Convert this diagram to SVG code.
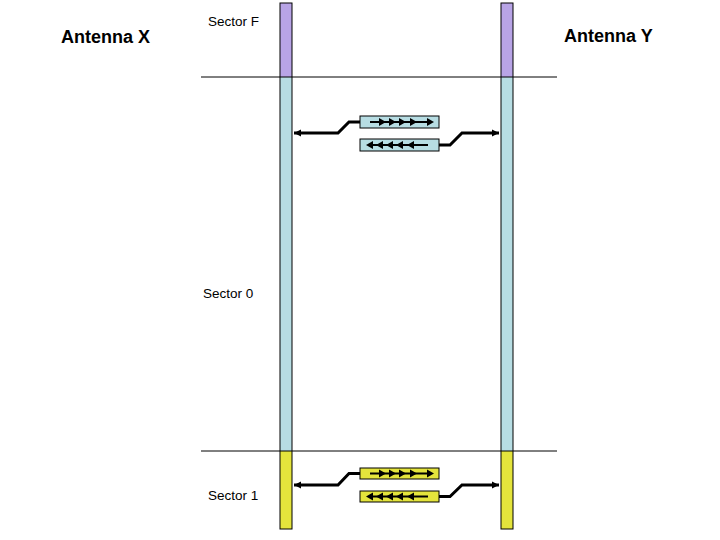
<svg xmlns="http://www.w3.org/2000/svg" width="720" height="540" viewBox="0 0 720 540">
<defs>
<style>
.bar{stroke:#000;stroke-width:1}
.blue{fill:#B7DDE3}
.purple{fill:#B8A4E6}
.yellow{fill:#E4E43C}
.div{stroke:#000;stroke-width:1;fill:none}
.conn{stroke:#000;stroke-width:3;fill:none}
.inner{stroke:#000;stroke-width:2;fill:none}
.lbl{font-family:"Liberation Sans",Arial,sans-serif;font-size:13.5px;fill:#000}
.ant{font-family:"Liberation Sans",Arial,sans-serif;font-size:18px;font-weight:bold;fill:#000}
</style>
<marker id="hR" markerWidth="8" markerHeight="8" refX="7" refY="4" orient="auto" markerUnits="userSpaceOnUse"><path d="M0,0.5 L7,4 L0,7.5 Z" fill="#000"/></marker>
<path id="tr" d="M0,0 L-7,-4 L-7,4 Z" fill="#000"/>
<path id="tl" d="M0,0 L7,-4 L7,4 Z" fill="#000"/>
</defs>
<rect width="720" height="540" fill="#fff"/>

<g id="antenna-x"><text class="ant" x="61" y="43">Antenna X</text></g>
<g id="antenna-y"><text class="ant" x="564" y="42">Antenna Y</text></g>

<g id="bar-x">
<rect class="purple" x="280" y="3" width="12" height="74"/>
<rect class="blue" x="280" y="77" width="12" height="374"/>
<rect class="yellow" x="280" y="451" width="12" height="78"/>
<rect x="280" y="3" width="12" height="526" fill="none" stroke="#000"/>
</g>
<g id="bar-y">
<rect class="purple" x="501" y="3" width="12" height="74"/>
<rect class="blue" x="501" y="77" width="12" height="374"/>
<rect class="yellow" x="501" y="451" width="12" height="78"/>
<rect x="501" y="3" width="12" height="526" fill="none" stroke="#000"/>
</g>

<g id="dividers">
<line class="div" x1="201" y1="77" x2="557" y2="77"/>
<line class="div" x1="201" y1="451" x2="557" y2="451"/>
</g>

<g id="sector-f"><text class="lbl" x="208" y="26">Sector F</text></g>
<g id="sector-0"><text class="lbl" x="203" y="298">Sector 0</text></g>
<g id="sector-1"><text class="lbl" x="208" y="500">Sector 1</text></g>

<g id="box-0a">
<rect class="blue bar" x="360" y="116" width="79" height="12"/>
<line class="inner" x1="370" y1="122" x2="430" y2="122"/>
<use href="#tr" x="386" y="122"/><use href="#tr" x="396" y="122"/><use href="#tr" x="406" y="122"/><use href="#tr" x="417" y="122"/><use href="#tr" x="434" y="122"/>
</g>
<g id="box-0b">
<rect class="blue bar" x="360" y="139" width="79" height="12"/>
<line class="inner" x1="370" y1="145" x2="428" y2="145"/>
<use href="#tl" x="366" y="145"/><use href="#tl" x="376" y="145"/><use href="#tl" x="386" y="145"/><use href="#tl" x="396" y="145"/><use href="#tl" x="407" y="145"/>
</g>
<g id="box-1a">
<rect class="yellow bar" x="360" y="468" width="79" height="11"/>
<line class="inner" x1="370" y1="473.5" x2="430" y2="473.5"/>
<use href="#tr" x="386" y="473.5"/><use href="#tr" x="396" y="473.5"/><use href="#tr" x="406" y="473.5"/><use href="#tr" x="417" y="473.5"/><use href="#tr" x="434" y="473.5"/>
</g>
<g id="box-1b">
<rect class="yellow bar" x="360" y="491" width="79" height="11"/>
<line class="inner" x1="370" y1="496.5" x2="428" y2="496.5"/>
<use href="#tl" x="366" y="496.5"/><use href="#tl" x="376" y="496.5"/><use href="#tl" x="386" y="496.5"/><use href="#tl" x="396" y="496.5"/><use href="#tl" x="407" y="496.5"/>
</g>

<g id="connectors">
<path class="conn" d="M360,122 L349,122 L338,133 L294,133" marker-end="url(#hR)"/>
<path class="conn" d="M439,145 L450,145 L462,133 L499,133" marker-end="url(#hR)"/>
<path class="conn" d="M360,473.5 L349,473.5 L338,485 L294,485" marker-end="url(#hR)"/>
<path class="conn" d="M439,496.5 L450,496.5 L462,485 L499,485" marker-end="url(#hR)"/>
</g>
</svg>
